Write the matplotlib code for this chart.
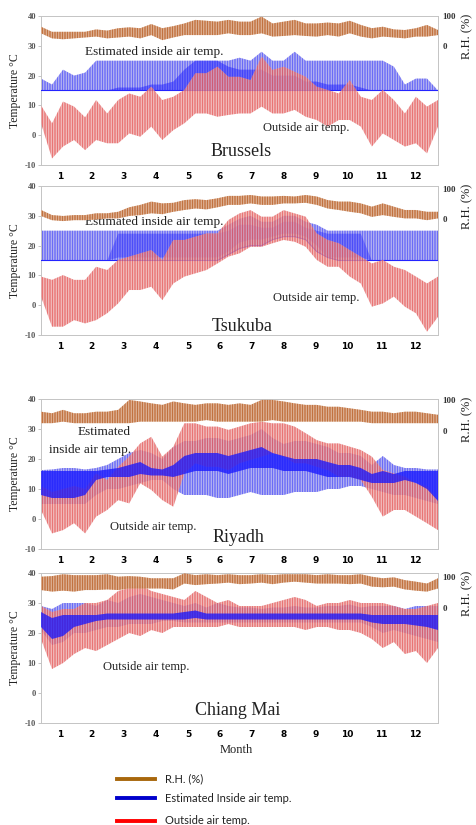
import numpy as np
import matplotlib
matplotlib.use("Agg")
import matplotlib.pyplot as plt
from matplotlib.lines import Line2D

# ---------------- data (37 samples per year, ~every 10 days) -------------
t_month = np.linspace(0, 12, 37)
month_labels = [str(k) for k in range(1, 13)]
month_label_pos = [0.58, 1.53, 2.50, 3.47, 4.44, 5.39, 6.35, 7.32, 8.30, 9.27, 10.30, 11.31]

# Brussels
bru_rh_hi = [64,47,47,47,47, 55,51,59,62,59, 73,59,66,75,87, 84,81,87,81,81, 98,75,81,87,75, 75,78,75,84,70, 59,64,55,53,59, 70,53]
bru_rh_lo = [42,25,22,25,28, 31,25,28,31,25, 36,19,28,36,36, 36,36,42,36,36, 42,31,33,36,33, 31,36,31,42,31, 25,31,28,25,31, 31,36]
bru_in_lo = [15,15,15,15,15, 15,15,15,15,15, 15,15,15,15,15, 15,15,15,15,15, 15,15,15,15,15, 15,15,15,15,15, 15,15,15,15,15, 15,15]
bru_in_hi = [19,17,22,20,21, 25,25,25,25,25, 25,25,25,25,25, 25,25,25,26,25, 28,25,25,28,25, 25,25,25,25,25, 25,25,23,17,19, 19,15]
bru_core_lo = [15,15,15,15,15, 15,15,15,15,15, 15,15,15,15,15, 15,15,15,15,15, 15,15,15,15,15, 15,15,15,15,15, 15,15,15,15,15, 15,15]
bru_core_hi = [15,15,15,15,15, 15,15,16,16,16, 17,17,18,22,25, 25,25,23,22,22, 22,20,20,20,18, 18,17,17,17,16, 15,15,15,15,15, 15,15]
bru_out_hi = [10,4,11.3,9.6,6, 11.8,7.3,11.8,14,12.9, 16.3,11.8,12.9,15.2,20.8, 20.8,23,19.6,19.6,18.5, 26.4,21.9,23,21.3,19.6, 16.3,15.2,14,18.5,12.9, 11.8,15.2,11.8,7.3,12.9, 9.6,11.8]
bru_out_lo = [4,-7.8,-3.8,-1.6,-5, -1.6,-2.7,-2.7,0.6,-0.5, 2.9,-1.6,1.7,4,7.3, 7.3,6.2,6.8,7.3,7.3, 9.6,7.3,7.3,8.5,6.2, 5.1,2.9,5.1,5.1,2.9, -3.8,0.6,-1.6,-3.8,-2.7, -6.1,2.9]

# Tsukuba
tsu_rh_hi = [31,14,11,14,14, 20,20,25,40,48, 59,53,55,64,67, 64,70,78,78,81, 76,76,78,76,81, 76,64,59,59,53, 42,53,42,31,31, 25,25]
tsu_rh_lo = [11,-3,-6,-3,-3, -1,3,3,11,14, 20,17,25,31,36, 33,40,48,48,53, 48,48,53,53,55, 48,36,31,25,20, 8,14,8,3,3, -3,3]
tsu_in_lo = [15,15,15,15,15, 15,15,15,15,15, 15,15,15,15,15, 15,15,17,19,20, 20,22,23,23,22, 18,16,15,15,15, 15,15,15,15,15, 15,15]
tsu_in_hi = [25,25,25,25,25, 25,25,25,25,25, 25,25,25,25,25, 25,25,27,29,30, 28,28,30,30,28, 27,25,25,25,25, 25,25,25,25,25, 25,25]
tsu_core_lo = [15,15,15,15,15, 15,15,16,16,16, 16,16,16,16,16, 16,16,18,21,22, 22,23,24,24,23, 20,16,16,16,16, 15,15,15,15,15, 15,15]
tsu_core_hi = [15,15,15,15,15, 15,15,24,24,24, 24,24,24,24,24, 24,24,25,27,27, 26,26,28,28,26, 25,24,24,24,24, 15,15,15,15,15, 15,15]
tsu_out_hi = [9.6,8.5,10.1,8.5,8.5, 12.9,11.8,15.2,16.3,17.4, 18.5,15.2,21.9,21.9,23, 24.1,24.1,28.6,30.8,31.9, 29.7,29.7,31.9,30.8,29.7, 24.1,21.9,20.8,18.5,16.3, 14,15.2,12.9,11.8,9.6, 7.3,9.6]
tsu_out_lo = [2.9,-7.2,-7.2,-5,-6.1, -5,-2.7,0.6,5.1,5.1, 6.2,1.7,7.3,9.6,10.7, 11.8,14,16.3,17.4,19.6, 19.6,20.8,21.9,21.3,19.6, 15.2,12.9,12.9,9.6,7.3, -0.5,0.6,2.9,-0.5,-2.7, -8.9,-3.9]

# Riyadh
riy_rh_hi = [62,57,68,57,57, 62,62,68,100,95, 89,84,95,89,84, 89,89,84,89,84, 100,100,95,89,84, 84,78,78,73,68, 62,62,57,62,62, 57,52]
riy_rh_lo = [25,25,30,25,25, 25,25,25,25,30, 30,30,30,30,30, 35,30,30,30,30, 30,35,30,30,30, 30,30,30,30,30, 25,25,25,25,25, 25,25]
riy_in_lo = [5,5,5,5,5, 8,10,10,11,12, 13,13,10,8,8, 8,7,7,8,9, 8,8,8,9,9, 9,10,10,11,11, 10,9,8,8,7, 6,5]
riy_in_hi = [16.3,16.5,17,17,16.5, 17,18,20,22,23, 22,20,24,26,26, 27,27,26,27,28, 30,27,25,26,26, 25,24,22,22,21, 18,21,18,17,17, 16.5,16.5]
riy_core_lo = [8,7,7,7,8, 13,14,14,14,15, 14.5,14.5,14,15,16, 16,16,15,16,17, 17,17,16,16,16, 15,14,14,14,13, 12,12,12,13,12, 10,6]
riy_core_hi = [16,16,16,16,16, 16,16.5,17,18,19, 17,16.5,18,21,22, 22,22,21,22,23, 24,22,21,20,20, 20,19,18,18,17, 15,16,15,16,16, 16,16]
riy_out_hi = [11,9,10,11,10, 15.2,13,17.4,20.8,25.2, 27.4,20.8,24.1,31.9,31.9, 30.8,30.8,29.7,30.8,31.9, 32.4,31.9,31.9,30.8,28.6, 26.3,25.2,25.2,24.1,23, 20.8,16.3,15.2,14.1,11.9, 10.8,6.3]
riy_out_lo = [3,-4.8,-3.7,-1.4,-4.8, 0.8,3,6.3,5.2,11.9, 9.7,6.3,4.1,15.2,18.6, 17.4,17.4,16.3,18.6,19.7, 20.8,21.9,20.8,18.6,18.6, 17.4,16.3,14.1,14.1,13, 7.4,0.8,3,3,0.8, -1.4,-3.7]

# Chiang Mai
chi_rh_hi = [100,102,108,105,105, 105,108,100,102,100, 95,95,95,111,105, 108,105,108,105,105, 108,105,108,108,108, 105,108,105,105,108, 100,95,98,89,84, 78,95]
chi_rh_lo = [57,52,55,52,57, 57,59,57,62,62, 62,62,59,78,73, 76,78,81,76,78, 81,76,81,84,81, 78,78,78,76,78, 68,66,68,59,55, 52,62]
chi_in_lo = [21,16,17,20,20, 21,22,22,23,23, 23,24,24,23.5,23.5, 23.5,23.5,23.5,23.5,23.5, 23.5,23.5,23.5,23.5,23.5, 23.5,23.5,23.5,23.5,23.5, 22,20,21,20,19, 18,17]
chi_in_hi = [29,28,30,30,30, 29,31,30,32,33, 32,31,30,29,30, 28.5,30,29,28.5,28.5, 28,28.5,28.5,29,28.5, 28.5,29,29,29.5,28.5, 29,29,29,28,29, 29,29]
chi_core_lo = [22,18,19,22,23, 24,24.5,24.5,24.5,24.5, 24.5,24.5,24.5,24.5,25, 24.5,24.5,24.5,24.5,24.5, 24.5,24.5,24.5,24.5,24.5, 24.5,24.5,24.5,24.5,24.5, 23.5,23,23,23,22.5, 22,21]
chi_core_hi = [27,25,26,26,26, 26,26.5,26.5,26.5,26.5, 26.5,26.5,26.5,27,27.5, 26.5,26.5,26.5,26.5,26.5, 26.5,26.5,26.5,26.5,26.5, 26.5,26.5,26.5,26.5,26.5, 26,26,26,26,26, 26,26]
chi_out_hi = [29,27,28,28,30, 30,31,34,35,36, 34,33,32,31,34, 32,30,31,29,29, 29,30,31,32,31, 29,30,30,31,30, 30,30,29,28,28, 29,30]
chi_out_lo = [18,8,10,13,15, 14,16,18,20,19, 21,20,22,22,22, 22,22,23,22,22, 22,22,22,22,21, 22,22,21,21,20, 18,15,17,13,14, 10,15]

# ---------------- styling -------------
W, H = 476, 825
plt.rcParams["hatch.linewidth"] = 0.5
SERIF = ["Liberation Serif", "DejaVu Serif"]
HATCH = "||||||||||"

RH_FACE, RH_HATCH = "#e2bea3", "#b24a0c"
IN_FACE, IN_HATCH, IN_CORE = "#b8b8ea", "#2424ff", "#1414ff"
OUT_FACE, OUT_HATCH = "#efbcbc", "#e01e1e"

panels = [
    dict(name="Brussels", top=16, bot=165, rh=(bru_rh_lo, bru_rh_hi), rhlim=(-400, 100),
         inn=(bru_in_lo, bru_in_hi, bru_core_lo, bru_core_hi), out=(bru_out_lo, bru_out_hi),
         red_top=True, base_line=True, core_alpha=0.45,
         texts=[("Estimated inside air temp.", 1.33, 27.9, "left", 9.5),
                ("Outside air temp.", 6.71, 2.4, "left", 9),
                ("Brussels", 6.06, -5.6, "center", 13)]),
    dict(name="Tsukuba", top=186, bot=335, rh=(tsu_rh_lo, tsu_rh_hi), rhlim=(-386, 111),
         inn=(tsu_in_lo, tsu_in_hi, tsu_core_lo, tsu_core_hi), out=(tsu_out_lo, tsu_out_hi),
         red_top=True, base_line=True, core_alpha=0.35,
         texts=[("Estimated inside air temp.", 1.33, 27.9, "left", 9.5),
                ("Outside air temp.", 7.01, 2.4, "left", 9),
                ("Tsukuba", 6.09, -7.3, "center", 13)]),
    dict(name="Riyadh", top=399, bot=549, rh=(riy_rh_lo, riy_rh_hi), rhlim=(-381, 103),
         inn=(riy_in_lo, riy_in_hi, riy_core_lo, riy_core_hi), out=(riy_out_lo, riy_out_hi),
         red_top=False, base_line=False, core_alpha=0.75,
         texts=[("Estimated", 1.12, 29.0, "left", 9.5),
                ("inside air temp.", 0.24, 23.0, "left", 9.5),
                ("Outside air temp.", 2.09, -2.7, "left", 9),
                ("Riyadh", 5.97, -6.0, "center", 13)]),
    dict(name="Chiang Mai", top=573, bot=723, rh=(chi_rh_lo, chi_rh_hi), rhlim=(-372, 112),
         inn=(chi_in_lo, chi_in_hi, chi_core_lo, chi_core_hi), out=(chi_out_lo, chi_out_hi),
         red_top=False, base_line=False, core_alpha=0.75,
         texts=[("Outside air temp.", 1.87, 8.7, "left", 9),
                ("Chiang Mai", 5.94, -5.7, "center", 13)]),
]

fig = plt.figure(figsize=(W / 100, H / 100), dpi=100)
AX_L, AX_R = 41, 438

for p in panels:
    rect = [AX_L / W, 1 - p["bot"] / H, (AX_R - AX_L) / W, (p["bot"] - p["top"]) / H]
    ax = fig.add_axes(rect)
    ax.set_xlim(0, 12)
    ax.set_ylim(-10, 40)
    ax.set_yticks([-10, 0, 10, 20, 30, 40])
    ax.set_yticklabels(["-10", "0", "10", "20", "30", "40"], fontsize=6, color="#555555",
                       fontweight="bold", family=SERIF)
    ax.set_xticks(month_label_pos)
    ax.set_xticklabels(month_labels, fontsize=6.5, fontweight="bold", family="DejaVu Sans")
    ax.tick_params(axis="x", length=0, pad=5)
    ax.tick_params(axis="y", length=2, width=0.6, color="#bbbbbb", pad=1.5)
    for s in ax.spines.values():
        s.set_color("#c4c4c4")
        s.set_linewidth(0.7)

    lo, hi, clo, chi = p["inn"]
    olo, ohi = p["out"]
    z_red = 4 if p["red_top"] else 2
    ax.fill_between(t_month, lo, hi, facecolor=IN_FACE, edgecolor=IN_HATCH, hatch=HATCH,
                    linewidth=0, alpha=0.8, zorder=1)
    ax.fill_between(t_month, clo, chi, facecolor=IN_CORE, linewidth=0, alpha=p["core_alpha"], zorder=3)
    if p["base_line"]:
        ax.plot(t_month, lo, color=IN_HATCH, lw=0.8, zorder=3)
    ax.fill_between(t_month, olo, ohi, facecolor=OUT_FACE, edgecolor=OUT_HATCH, hatch=HATCH,
                    linewidth=0, alpha=0.72, zorder=z_red)

    for txt, x, y, ha, fs in p["texts"]:
        ax.text(x, y, txt, ha=ha, va="center", fontsize=fs, family=SERIF, color="#222222", zorder=6)

    ax2 = ax.twinx()
    ax2.set_ylim(*p["rhlim"])
    ax2.set_yticks([0, 100])
    ax2.set_yticklabels(["0", "100"], fontsize=6.5, fontweight="bold", family=SERIF, color="#333333")
    ax2.tick_params(axis="y", length=0, pad=3)
    for s in ax2.spines.values():
        s.set_visible(False)
    rlo, rhi = p["rh"]
    ax2.fill_between(t_month, rlo, rhi, facecolor=RH_FACE, edgecolor=RH_HATCH, hatch=HATCH,
                     linewidth=0, alpha=0.95)

    mid = 1 - (p["top"] + p["bot"]) / 2 / H
    fig.text(15 / W, mid, "Temperature \u00b0C", rotation=90, ha="center", va="center",
             fontsize=8.5, family=SERIF, color="#222222")
    fig.text(467 / W, 1 - (p["top"] + 20) / H, "R.H. (%)", rotation=90, ha="center", va="center",
             fontsize=9, family=SERIF, color="#222222")

fig.text(236 / W, 1 - 750 / H, "Month", ha="center", va="center", fontsize=9, family=SERIF, color="#222222")

# legend
leg_items = [("R.H. (%)", "#a8670c", 779), ("Estimated Inside air temp.", "#0000cc", 798),
             ("Outside air temp.", "#ff0000", 821)]
for lab, col, yy in leg_items:
    fig.add_artist(Line2D([117 / W, 155 / W], [1 - yy / H, 1 - yy / H], color=col, lw=2.8,
                          transform=fig.transFigure))
    fig.text(165 / W, 1 - yy / H, lab, ha="left", va="center", fontsize=8, family="Lato", color="#222222")

fig.savefig("out.png", dpi=100)
